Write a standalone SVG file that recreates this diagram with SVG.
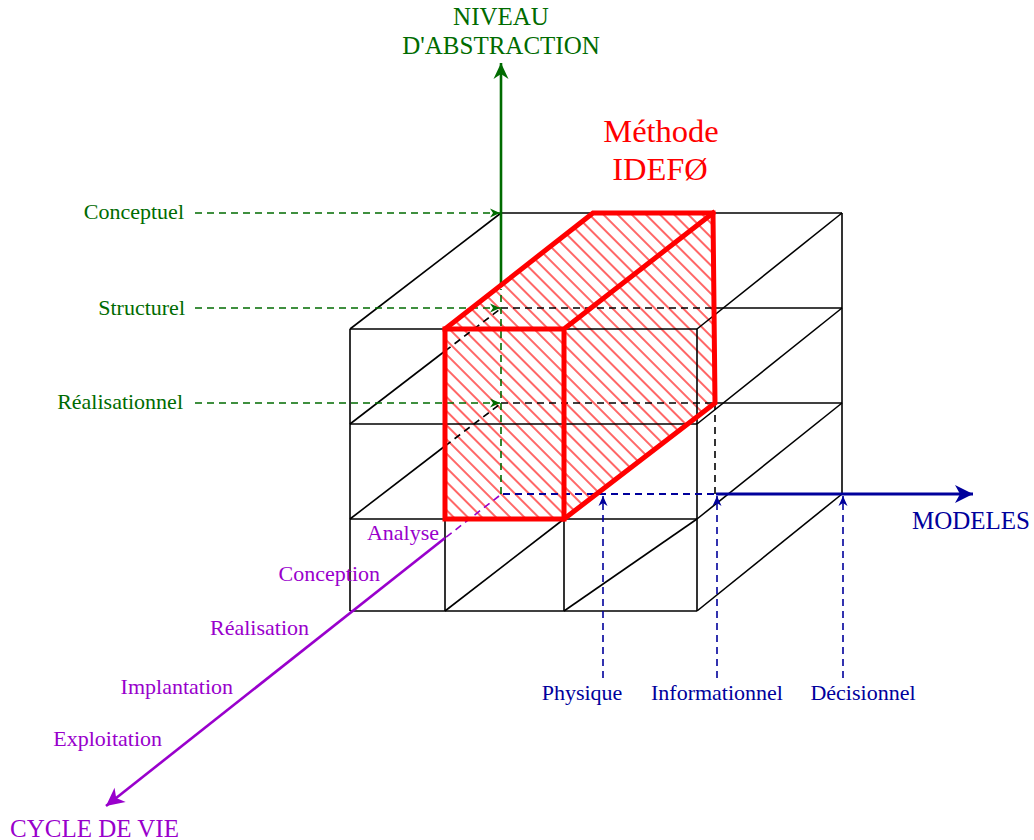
<svg xmlns="http://www.w3.org/2000/svg" width="1034" height="840" viewBox="0 0 1034 840">
<defs>
<style>
text{font-family:"Liberation Serif","Times New Roman",serif}
.lbl{font-size:22px}
.ax{font-size:25px}
.g{fill:#006B00}
.b{fill:#00009C}
.p{fill:#9900CC}
.k{stroke:#000;stroke-width:1.6;fill:none}
.kd{stroke:#000;stroke-width:1.6;fill:none;stroke-dasharray:7 5}
.gd{stroke:#006B00;stroke-width:1.6;fill:none;stroke-dasharray:7 5}
.bd{stroke:#00009C;stroke-width:1.6;fill:none;stroke-dasharray:7 5}
.pd{stroke:#9900CC;stroke-width:1.6;fill:none;stroke-dasharray:7 5}
.red{stroke:#FF0000;stroke-width:5;fill:none;stroke-linejoin:miter;stroke-linecap:square}
</style>
<pattern id="hatch" patternUnits="userSpaceOnUse" width="10" height="10" patternTransform="rotate(45)">
<line x1="-1" y1="5" x2="11" y2="5" stroke="#FF0000" stroke-width="1.2"/>
</pattern>
<marker id="agBig" markerUnits="userSpaceOnUse" markerWidth="20" markerHeight="20" refX="0" refY="0" viewBox="-18 -10 20 20" orient="auto"><path d="M0,0 L-16,-7.5 L-11,0 L-16,7.5 Z" fill="#006B00"/></marker>
<marker id="abBig" markerUnits="userSpaceOnUse" markerWidth="22" markerHeight="22" refX="0" refY="0" viewBox="-20 -11 22 22" orient="auto"><path d="M0,0 L-18,-9 L-13,0 L-18,9 Z" fill="#00009C"/></marker>
<marker id="apBig" markerUnits="userSpaceOnUse" markerWidth="22" markerHeight="22" refX="0" refY="0" viewBox="-20 -11 22 22" orient="auto"><path d="M0,0 L-18,-9 L-13,0 L-18,9 Z" fill="#9900CC"/></marker>
<marker id="agS" markerUnits="userSpaceOnUse" markerWidth="12" markerHeight="12" refX="0" refY="0" viewBox="-11 -6 12 12" orient="auto"><path d="M0,0 L-10,-4.5 L-7,0 L-10,4.5 Z" fill="#006B00"/></marker>
<marker id="abS" markerUnits="userSpaceOnUse" markerWidth="12" markerHeight="12" refX="0" refY="0" viewBox="-11 -6 12 12" orient="auto"><path d="M0,0 L-10,-4.5 L-7,0 L-10,4.5 Z" fill="#00009C"/></marker>
</defs>
<rect width="1034" height="840" fill="#fff"/>

<g id="idef0-fill">
<path d="M445,329 L593,213 L713,213 L715,403 L565,519 L445,519 Z" fill="url(#hatch)" stroke="none"/>
</g>

<g id="cube">
<line class="k" x1="350" y1="329" x2="697" y2="329"/>
<line class="k" x1="350" y1="424" x2="697" y2="424"/>
<line class="k" x1="350" y1="519" x2="697" y2="519"/>
<line class="k" x1="350" y1="611" x2="697" y2="611"/>
<line class="k" x1="350" y1="329" x2="350" y2="611"/>
<line class="k" x1="445" y1="329" x2="445" y2="611"/>
<line class="k" x1="564" y1="329" x2="564" y2="611"/>
<line class="k" x1="697" y1="329" x2="697" y2="611"/>
<line class="k" x1="501" y1="213" x2="842" y2="213"/>
<line class="k" x1="842" y1="213" x2="842" y2="494"/>
<line class="k" x1="715" y1="308" x2="842" y2="308"/>
<line class="k" x1="715" y1="403" x2="842" y2="403"/>
<line class="k" x1="350" y1="329" x2="501" y2="213"/>
<line class="k" x1="350" y1="424" x2="445" y2="351"/>
<line class="k" x1="350" y1="519" x2="445" y2="446"/>
<line class="k" x1="445" y1="611" x2="564" y2="519"/>
<line class="k" x1="564" y1="611" x2="697" y2="519"/>
<line class="k" x1="697" y1="611" x2="842" y2="494"/>
<line class="k" x1="697" y1="519" x2="842" y2="403"/>
<line class="k" x1="697" y1="424" x2="842" y2="308"/>
<line class="k" x1="697" y1="329" x2="842" y2="213"/>
<line class="kd" x1="445" y1="351" x2="499" y2="310"/>
<line class="kd" x1="445" y1="446" x2="499" y2="405"/>
<line class="kd" x1="501" y1="308" x2="713" y2="308"/>
<line class="kd" x1="501" y1="403" x2="713" y2="403"/>
<line class="kd" x1="715" y1="403" x2="715" y2="494"/>
</g>

<g id="connectors">
<line x1="501" y1="287" x2="501" y2="63" stroke="#006B00" stroke-width="2.6" marker-end="url(#agBig)"/>
<line class="gd" x1="501" y1="494" x2="501" y2="289"/>
<line class="gd" x1="195" y1="213" x2="500" y2="213" marker-end="url(#agS)"/>
<line class="gd" x1="195" y1="308" x2="500" y2="308" marker-end="url(#agS)"/>
<line class="gd" x1="195" y1="403" x2="500" y2="403" marker-end="url(#agS)"/>
<line class="bd" x1="503" y1="494" x2="716" y2="494" style="stroke-width:2"/>
<line x1="716" y1="494" x2="973" y2="494" stroke="#00009C" stroke-width="2.8" marker-end="url(#abBig)"/>
<line class="bd" x1="603" y1="678" x2="603" y2="496" marker-end="url(#abS)"/>
<line class="bd" x1="717" y1="678" x2="717" y2="496" marker-end="url(#abS)"/>
<line class="bd" x1="843" y1="678" x2="843" y2="496" marker-end="url(#abS)"/>
<line class="pd" x1="499" y1="496" x2="445" y2="538"/>
<line x1="445" y1="538" x2="106" y2="806" stroke="#9900CC" stroke-width="2.6" marker-end="url(#apBig)"/>
</g>

<g id="idef0">
<path class="red" d="M445,329 L593,213 L713,213 L715,403 L564,519 L445,519 Z"/>
<path class="red" d="M445,329 L564,329 L713,213 M564,329 L564,519"/>
</g>

<g id="labels">
<text class="ax g" x="501" y="25" text-anchor="middle">NIVEAU</text>
<text class="ax g" x="501" y="54" text-anchor="middle">D'ABSTRACTION</text>
<text x="661" y="142" text-anchor="middle" font-size="32.5" fill="#FF0000">Méthode</text>
<text x="660" y="180" text-anchor="middle" font-size="32.5" fill="#FF0000">IDEFØ</text>
<text class="lbl g" x="184" y="219" text-anchor="end">Conceptuel</text>
<text class="lbl g" x="185" y="315" text-anchor="end">Structurel</text>
<text class="lbl g" x="183" y="409" text-anchor="end">Réalisationnel</text>
<text class="lbl p" x="439" y="540" text-anchor="end">Analyse</text>
<text class="lbl p" x="380" y="581" text-anchor="end">Conception</text>
<text class="lbl p" x="309" y="635" text-anchor="end">Réalisation</text>
<text class="lbl p" x="233" y="694" text-anchor="end">Implantation</text>
<text class="lbl p" x="162" y="746" text-anchor="end">Exploitation</text>
<text class="ax p" x="10" y="837">CYCLE DE VIE</text>
<text class="ax b" x="1030" y="529" text-anchor="end">MODELES</text>
<text class="lbl b" x="582" y="700" text-anchor="middle">Physique</text>
<text class="lbl b" x="717" y="700" text-anchor="middle">Informationnel</text>
<text class="lbl b" x="863" y="700" text-anchor="middle">Décisionnel</text>
</g>
</svg>
